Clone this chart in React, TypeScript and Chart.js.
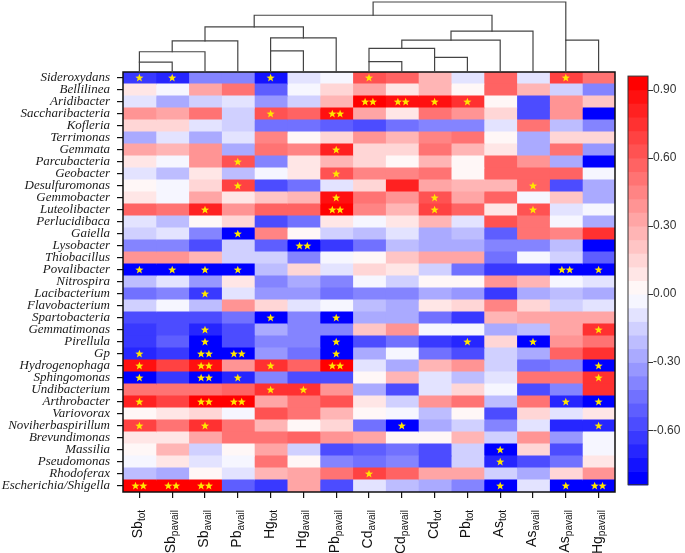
import React, { useEffect, useRef } from 'react';
import { Chart, registerables } from 'chart.js';

Chart.register(...registerables);

// ---------- data ----------
const ROWS = [
  'Sideroxydans', 'Bellilinea', 'Aridibacter', 'Saccharibacteria', 'Kofleria', 'Terrimonas',
  'Gemmata', 'Parcubacteria', 'Geobacter', 'Desulfuromonas', 'Gemmobacter', 'Luteolibacter',
  'Perlucidibaca', 'Gaiella', 'Lysobacter', 'Thiobacillus', 'Povalibacter', 'Nitrospira',
  'Lacibacterium', 'Flavobacterium', 'Spartobacteria', 'Gemmatimonas', 'Pirellula', 'Gp',
  'Hydrogenophaga', 'Sphingomonas', 'Undibacterium', 'Arthrobacter', 'Variovorax',
  'Noviherbaspirillum', 'Brevundimonas', 'Massilia', 'Pseudomonas', 'Rhodoferax',
  'Escherichia/Shigella',
];

const COL_ELEMENT = ['Sb', 'Sb', 'Sb', 'Pb', 'Hg', 'Hg', 'Pb', 'Cd', 'Cd', 'Cd', 'Pb', 'As', 'As', 'As', 'Hg'];
const COL_FORM = ['tot', 'pavail', 'avail', 'avail', 'tot', 'avail', 'pavail', 'avail', 'pavail', 'tot', 'tot', 'tot', 'avail', 'pavail', 'pavail'];

// correlation coefficients, one row per genus, one value per column
const CORR = [
  [-0.62, -0.72, -0.42, -0.42, -0.75, -0.12, -0.03, 0.65, 0.58, 0.28, -0.12, 0.55, -0.12, 0.68, 0.52],
  [0.10, -0.03, 0.32, 0.48, -0.52, -0.05, 0.17, 0.32, 0.10, 0.28, 0.03, 0.55, 0.28, -0.15, -0.40],
  [-0.10, -0.27, -0.15, -0.08, -0.33, -0.15, 0.24, 0.90, 0.88, 0.85, 0.75, 0.03, -0.58, 0.36, 0.20],
  [0.40, 0.34, 0.48, -0.13, 0.65, 0.58, 0.88, 0.32, 0.10, 0.52, 0.36, 0.12, -0.58, 0.36, -0.78],
  [0.17, 0.17, -0.10, -0.13, -0.45, -0.45, -0.52, -0.58, -0.48, -0.37, -0.37, -0.12, 0.48, -0.22, -0.42],
  [-0.25, -0.10, -0.28, -0.10, 0.44, 0.02, 0.17, 0.36, 0.26, 0.44, 0.48, 0.03, -0.27, 0.17, 0.17],
  [0.32, 0.24, 0.36, -0.30, 0.48, 0.44, 0.80, 0.17, 0.17, 0.48, 0.28, 0.10, -0.27, 0.48, -0.33],
  [0.10, -0.03, 0.40, 0.65, -0.37, 0.10, 0.28, 0.17, 0.03, 0.28, 0.02, 0.58, 0.40, -0.30, -0.80],
  [-0.10, -0.22, 0.10, -0.22, -0.03, 0.08, 0.62, 0.44, 0.44, 0.48, 0.02, 0.58, 0.58, 0.58, -0.03],
  [0.03, -0.03, 0.17, 0.70, -0.58, -0.48, -0.10, 0.15, 0.80, 0.32, 0.28, 0.28, 0.58, -0.55, -0.27],
  [0.10, -0.03, 0.32, 0.10, 0.20, 0.28, 0.88, 0.48, 0.40, 0.65, 0.32, 0.58, -0.03, 0.20, -0.27],
  [0.58, 0.52, 0.80, 0.40, 0.55, 0.55, 0.95, 0.44, 0.28, 0.70, 0.58, 0.10, 0.65, -0.10, -0.03],
  [-0.10, -0.22, 0.03, 0.17, -0.55, -0.45, 0.10, -0.03, 0.10, 0.24, -0.10, 0.65, 0.48, -0.03, -0.25],
  [-0.15, -0.10, -0.42, -0.82, 0.44, 0.02, -0.15, -0.22, -0.10, -0.25, -0.22, -0.52, 0.52, 0.44, 0.75],
  [-0.42, -0.37, -0.58, -0.15, -0.52, -0.86, -0.65, -0.48, -0.22, -0.27, -0.27, -0.37, -0.42, -0.22, -0.84],
  [0.36, 0.36, 0.24, -0.15, -0.18, -0.37, -0.03, 0.03, 0.20, 0.32, 0.32, -0.45, -0.03, -0.15, -0.52],
  [-0.82, -0.82, -0.82, -0.82, -0.22, 0.17, -0.10, 0.15, 0.08, -0.18, -0.48, -0.65, -0.65, -0.86, -0.86],
  [-0.22, -0.10, -0.33, 0.10, -0.40, -0.25, -0.40, -0.03, -0.15, 0.02, 0.02, 0.40, 0.24, -0.03, -0.10],
  [-0.45, -0.37, -0.62, -0.10, -0.33, -0.33, -0.48, -0.42, -0.42, -0.27, -0.33, -0.62, -0.27, -0.22, -0.27],
  [-0.15, -0.03, -0.22, 0.40, 0.17, -0.10, -0.03, -0.20, -0.30, 0.10, 0.17, 0.44, 0.17, -0.15, -0.10],
  [-0.55, -0.55, -0.58, -0.45, -0.82, -0.42, -0.80, -0.27, -0.25, -0.48, -0.65, 0.24, 0.32, 0.32, 0.32],
  [-0.65, -0.55, -0.72, -0.55, -0.25, -0.40, -0.40, 0.20, 0.40, -0.03, -0.03, -0.25, -0.22, 0.32, 0.72],
  [-0.65, -0.52, -0.82, -0.58, -0.37, -0.37, -0.82, -0.55, -0.48, -0.65, -0.72, 0.17, -0.82, 0.40, 0.48],
  [-0.72, -0.62, -0.86, -0.86, -0.33, -0.45, -0.80, -0.27, -0.03, -0.48, -0.55, -0.15, -0.27, 0.55, 0.75],
  [0.85, 0.70, 0.88, 0.40, 0.75, 0.58, 0.90, -0.10, -0.27, 0.28, 0.36, -0.15, -0.48, -0.37, -0.80],
  [-0.80, -0.62, -0.86, -0.72, -0.37, -0.58, -0.58, 0.03, 0.28, -0.12, -0.22, -0.10, 0.52, 0.48, 0.75],
  [0.52, 0.52, 0.52, 0.58, 0.75, 0.75, 0.40, -0.30, -0.58, -0.10, 0.17, -0.03, -0.58, -0.40, 0.75],
  [0.80, 0.70, 0.90, 0.90, 0.32, 0.48, 0.62, 0.10, -0.15, 0.36, 0.48, -0.22, 0.48, -0.72, -0.82],
  [0.03, 0.10, 0.17, -0.03, 0.62, 0.52, 0.24, 0.03, -0.03, -0.22, 0.03, -0.55, 0.17, -0.12, 0.10],
  [0.70, 0.52, 0.75, 0.48, 0.24, 0.02, 0.17, -0.48, -0.82, -0.25, -0.15, -0.37, -0.08, -0.72, -0.72],
  [0.10, 0.10, 0.34, 0.52, 0.48, 0.58, 0.40, 0.32, 0.03, 0.03, 0.28, -0.15, 0.40, -0.33, -0.03],
  [0.03, 0.24, -0.15, 0.02, 0.32, -0.15, -0.58, -0.52, -0.45, -0.55, -0.15, -0.82, 0.17, -0.55, -0.03],
  [-0.05, 0.10, -0.08, -0.05, 0.48, 0.03, -0.37, -0.48, -0.42, -0.55, -0.15, -0.72, -0.58, -0.45, 0.10],
  [-0.22, -0.27, 0.03, -0.10, 0.28, 0.32, 0.48, 0.70, 0.58, 0.32, 0.32, -0.15, -0.30, 0.17, 0.40],
  [0.93, 0.93, 0.93, -0.52, -0.62, 0.32, -0.58, -0.12, -0.22, -0.27, -0.42, -0.80, -0.10, -0.86, -0.86],
];

// significance: number of stars per cell (0, 1 = *, 2 = **)
const SIGNIF = [
  '110010010000010', '000000000000000', '000000022110000', '000010200000000',
  '000000000000000', '000000000000000', '000000100000000', '000100000000000',
  '000000100000000', '000100000000100', '000000100100000', '001000200100100',
  '000000000000000', '000100000000000', '000002000000000', '000000000000000',
  '111100000000021', '000000000000000', '001000000000000', '000000000000000',
  '000010100000000', '001000000000001', '001000100010100', '102200100000000',
  '102010200000001', '102100000000001', '000011000000000', '102200000000011',
  '000000000000000', '101000001000001', '000000000000000', '000000000001000',
  '000000000001000', '000000010000000', '222000000001012',
];

// column dendrogram: [node a, node b, linkage distance]; new nodes numbered from 15
const LINKAGE = [
  [0, 1, 0.142], [7, 8, 0.147], [9, 10, 0.209], [15, 2, 0.289], [4, 5, 0.303],
  [16, 17, 0.337], [18, 3, 0.445], [20, 11, 0.455], [13, 14, 0.455], [19, 6, 0.488],
  [22, 12, 0.583], [21, 24, 0.644], [26, 25, 0.811], [27, 23, 1.0],
];

// colour scale levels
const CB_MIN = -0.84;
const CB_MAX = 0.96;
const CB_BANDS = 30;
const CB_TICKS = [-0.6, -0.3, 0, 0.3, 0.6, 0.9];
const CB_AXIS_MIN = -0.872;
const CB_AXIS_MAX = 0.978;

// ---------- colour map ----------
const bandSpan = (CB_MAX - CB_MIN) / CB_BANDS;
function bandColor(k: number): string {
  const c = CB_MIN + (k + 0.5) * bandSpan;
  const lo = CB_MIN + 0.5 * bandSpan;
  const hi = CB_MAX - 0.5 * bandSpan;
  if (c < 0) {
    const g = Math.round(255 * (1 - c / lo));
    return `rgb(${g},${g},255)`;
  }
  const g = Math.round(255 * (1 - c / hi));
  return `rgb(255,${g},${g})`;
}
function valueColor(v: number): string {
  let k = Math.floor((v - CB_MIN) / bandSpan);
  k = Math.max(0, Math.min(CB_BANDS - 1, k));
  return bandColor(k);
}

function drawStar(ctx: CanvasRenderingContext2D, cx: number, cy: number, r: number) {
  const ri = r * 0.42;
  ctx.beginPath();
  for (let i = 0; i < 10; i++) {
    const rr = i % 2 === 0 ? r : ri;
    const ang = -Math.PI / 2 + (i * Math.PI) / 5;
    const px = cx + rr * Math.cos(ang);
    const py = cy + rr * Math.sin(ang);
    if (i === 0) ctx.moveTo(px, py);
    else ctx.lineTo(px, py);
  }
  ctx.closePath();
  ctx.fill();
}

const extrasPlugin = {
  id: 'heatExtras',
  afterDatasetsDraw(chart: any) {
    const { ctx, chartArea: a, scales } = chart;
    const x = scales.x;
    const y = scales.y;
    const yc = scales.yc;
    ctx.save();

    // significance stars
    ctx.fillStyle = '#ffe600';
    SIGNIF.forEach((row, i) => {
      const cy = y.getPixelForValue(i);
      for (let j = 0; j < row.length; j++) {
        const n = Number(row[j]);
        if (!n) continue;
        const cx = x.getPixelForValue(j + 0.5);
        if (n === 1) drawStar(ctx, cx, cy, 4.3);
        else {
          drawStar(ctx, cx - 3.9, cy, 4.3);
          drawStar(ctx, cx + 3.9, cy, 4.3);
        }
      }
    });

    // frame
    ctx.strokeStyle = '#111';
    ctx.lineWidth = 1.5;
    ctx.strokeRect(a.left, a.top, a.right - a.left, a.bottom - a.top);

    // dendrogram
    const nLeaves = COL_ELEMENT.length;
    const nodeX: number[] = [];
    const nodeH: number[] = [];
    for (let j = 0; j < nLeaves; j++) {
      nodeX[j] = x.getPixelForValue(j + 0.5);
      nodeH[j] = 0;
    }
    const hMax = Math.max(...LINKAGE.map((l) => l[2]));
    const yOf = (h: number) => a.top - (h / hMax) * (a.top - 2);
    ctx.strokeStyle = '#444';
    ctx.lineWidth = 1.2;
    ctx.lineCap = 'square';
    LINKAGE.forEach(([p, q, h], k) => {
      const xp = nodeX[p];
      const xq = nodeX[q];
      const yh = yOf(h);
      ctx.beginPath();
      ctx.moveTo(xp, yOf(nodeH[p]));
      ctx.lineTo(xp, yh);
      ctx.lineTo(xq, yh);
      ctx.lineTo(xq, yOf(nodeH[q]));
      ctx.stroke();
      const id = nLeaves + k;
      nodeX[id] = p < nLeaves && q < nLeaves ? Math.min(xp, xq) : (xp + xq) / 2;
      nodeH[id] = h;
    });
    ctx.lineCap = 'butt';

    // colour bar
    const cbL = a.right + 13;
    const cbW = 20;
    for (let k = 0; k < CB_BANDS; k++) {
      const v0 = CB_MIN + k * bandSpan;
      const v1 = v0 + bandSpan;
      const p0 = yc.getPixelForValue(v0);
      const p1 = yc.getPixelForValue(v1);
      ctx.fillStyle = bandColor(k);
      ctx.fillRect(cbL, p1, cbW, p0 - p1 + 0.6);
    }
    const cbTop = yc.getPixelForValue(CB_MAX);
    const cbBot = yc.getPixelForValue(CB_MIN);
    ctx.strokeStyle = '#333';
    ctx.lineWidth = 1;
    ctx.strokeRect(cbL, cbTop, cbW, cbBot - cbTop);
    CB_TICKS.forEach((t) => {
      const py = Math.round(yc.getPixelForValue(t)) + 0.5;
      ctx.beginPath();
      ctx.moveTo(cbL + cbW, py);
      ctx.lineTo(cbL + cbW + 5, py);
      ctx.stroke();
    });

    // column labels with subscripts
    ctx.fillStyle = '#111';
    ctx.textBaseline = 'alphabetic';
    ctx.textAlign = 'left';
    const mainFont = '14px "Liberation Sans", Arial, sans-serif';
    const subFont = '10px "Liberation Sans", Arial, sans-serif';
    const anchorY = a.bottom + 18;
    COL_ELEMENT.forEach((el, j) => {
      const cx = x.getPixelForValue(j + 0.5);
      ctx.font = mainFont;
      const wMain = ctx.measureText(el).width;
      ctx.font = subFont;
      const wSub = ctx.measureText(COL_FORM[j]).width;
      const total = wMain + wSub;
      ctx.save();
      ctx.translate(cx + 3, anchorY);
      ctx.rotate(-Math.PI / 2);
      ctx.font = mainFont;
      ctx.fillText(el, -total, 0);
      ctx.font = subFont;
      ctx.fillText(COL_FORM[j], -total + wMain, 3);
      ctx.restore();
    });

    ctx.restore();
  },
};

export default function App() {
  const ref = useRef<HTMLCanvasElement | null>(null);

  useEffect(() => {
    if (!ref.current) return;
    const nCols = COL_ELEMENT.length;
    const datasets = COL_ELEMENT.map((_, j) => ({
      label: COL_ELEMENT[j] + COL_FORM[j],
      data: ROWS.map(() => [j, j + 1]),
      backgroundColor: CORR.map((row) => valueColor(row[j])),
      borderWidth: 0,
      grouped: false,
      barPercentage: 1,
      categoryPercentage: 1,
      inflateAmount: 0.5,
    }));

    const chart = new Chart(ref.current, {
      type: 'bar',
      data: { labels: ROWS, datasets: datasets as any },
      options: {
        indexAxis: 'y',
        animation: false,
        responsive: false,
        maintainAspectRatio: false,
        layout: { padding: { top: 72, left: 0, right: 0, bottom: 0 } },
        plugins: { legend: { display: false }, tooltip: { enabled: false } },
        scales: {
          x: {
            type: 'linear',
            position: 'bottom',
            min: 0,
            max: nCols,
            offset: false,
            grid: { display: true, offset: false, drawOnChartArea: false, drawTicks: true, tickLength: 6, color: '#111', lineWidth: 1.2 },
            border: { display: false },
            ticks: { display: false },
            afterBuildTicks: (s: any) => {
              s.ticks = COL_ELEMENT.map((_, j) => ({ value: j + 0.5 }));
            },
            afterFit: (s: any) => {
              s.height = 61;
            },
          },
          y: {
            type: 'category',
            position: 'left',
            offset: true,
            grid: { display: true, offset: false, drawOnChartArea: false, drawTicks: true, tickLength: 6, color: '#111', lineWidth: 1.2 },
            border: { display: false },
            ticks: {
              autoSkip: false,
              padding: 7,
              color: '#1a1a1a',
              font: { family: '"Liberation Serif", "Times New Roman", serif', style: 'italic', size: 13 },
            },
            afterFit: (s: any) => {
              s.width = 123;
            },
          },
          yc: {
            type: 'linear',
            axis: 'y',
            position: 'right',
            offset: false,
            min: CB_AXIS_MIN,
            max: CB_AXIS_MAX,
            grid: { display: false, offset: false },
            border: { display: false },
            afterBuildTicks: (s: any) => {
              s.ticks = CB_TICKS.map((v) => ({ value: v }));
            },
            ticks: {
              padding: 30,
              color: '#333',
              font: { family: '"Liberation Sans", Arial, sans-serif', size: 12 },
              callback: (v: any) => {
                const n = Number(v);
                return (Math.abs(n) < 1e-9 ? 0 : n).toFixed(2);
              },
            },
            afterFit: (s: any) => {
              s.width = 70;
            },
          },
        },
      },
      plugins: [extrasPlugin],
    });
    return () => chart.destroy();
  }, []);

  return (
    <div style={{ position: 'absolute', left: 0, top: 0, width: 685, height: 553, background: '#fff' }}>
      <canvas ref={ref} width={685} height={553} style={{ display: 'block' }} />
    </div>
  );
}
